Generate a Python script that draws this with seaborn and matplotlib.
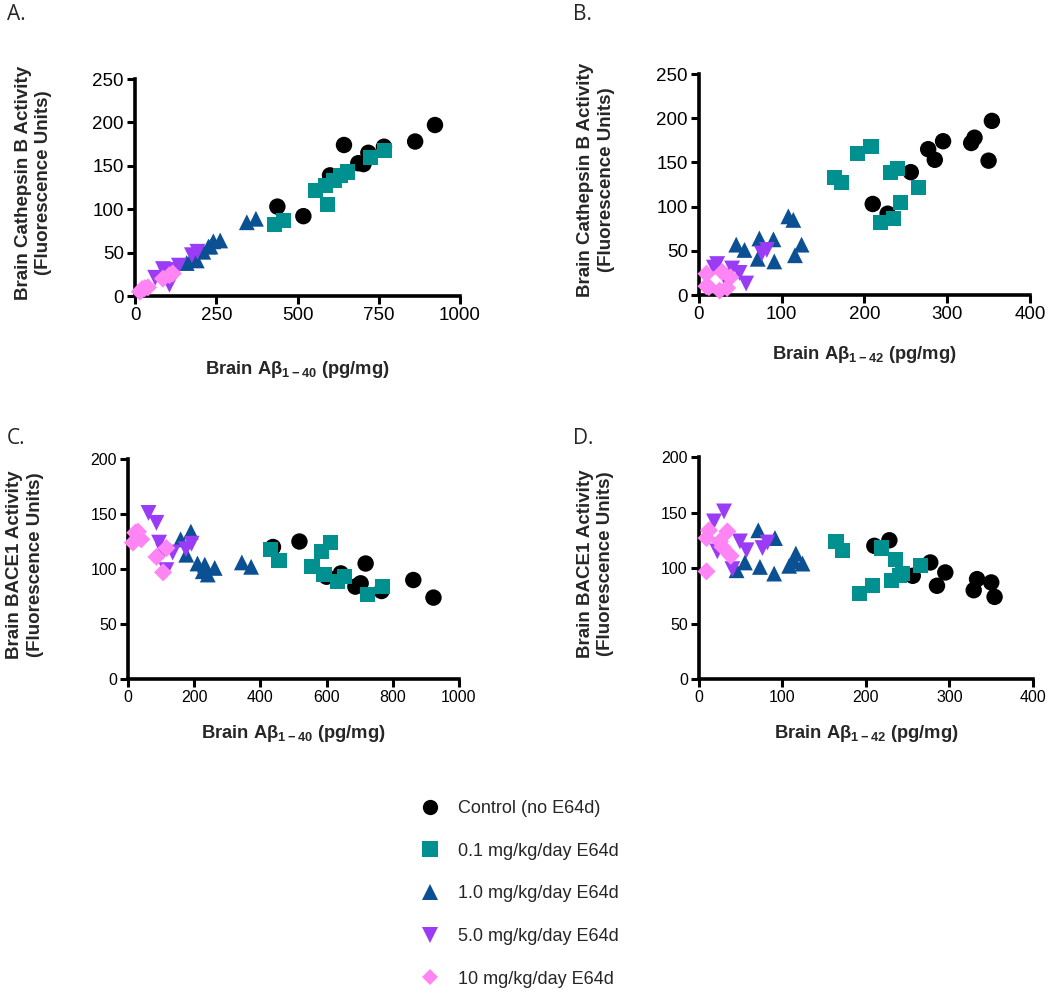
import numpy as np
import pandas as pd
import matplotlib
matplotlib.use("Agg")
import matplotlib.pyplot as plt
from matplotlib.lines import Line2D
import seaborn as sns

# ---- data, one entry per animal ----
groups = ["Control (no E64d)", "0.1 mg/kg/day E64d", "1.0 mg/kg/day E64d",
          "5.0 mg/kg/day E64d", "10 mg/kg/day E64d"]

ctrl_ab40 = [438, 518, 600, 643, 687, 703, 718, 766, 862, 923]
ctrl_ab42 = [210, 228, 256, 295, 285, 350, 277, 329, 333, 354]
ctrl_catb = [103, 92, 139, 174, 153, 152, 165, 172, 178, 197]
ctrl_bace = [120, 125, 93, 96, 84, 87, 105, 80, 90, 74]

d01_ab40 = [430, 456, 556, 585, 592, 612, 632, 655, 724, 768]
d01_ab42 = [219, 235, 265, 172, 244, 164, 231, 240, 192, 208]
d01_catb = [82, 87, 122, 127, 105, 133, 139, 143, 160, 168]
d01_bace = [118, 108, 102, 116, 95, 124, 89, 93, 77, 84]

d1_ab40 = [159, 190, 176, 210, 226, 232, 241, 262, 344, 372]
d1_ab42 = [91, 71, 116, 55, 45, 124, 90, 73, 114, 108]
d1_catb = [38, 41, 45, 51, 57, 57, 63, 64, 85, 89]
d1_bace = [127, 134, 113, 105, 98, 104, 95, 101, 106, 102]

d5_ab40 = [62, 86, 94, 106, 116, 135, 175, 192]
d5_ab42 = [30, 18, 49, 57, 40, 22, 76, 82]
d5_catb = [21, 31, 25, 13, 30, 35, 47, 51]
d5_bace = [151, 142, 124, 116, 99, 115, 118, 123]

d10_ab40 = [15, 22, 40, 86, 106, 116, 30]
d10_ab42 = [25, 34, 9, 38, 9, 28, 12]
d10_catb = [5, 8, 10, 20, 24, 26, 9]
d10_bace = [124, 133, 127, 111, 97, 119, 134]

colors = ["#000000", "#00908f", "#0b5093", "#9a3cf5", "#ff85f5"]
markers = ["o", "s", "^", "v", "D"]
sizes = [140, 120, 130, 130, 85]

frames = []
for g, a40, a42, cb, bc in zip(
        groups,
        [ctrl_ab40, d01_ab40, d1_ab40, d5_ab40, d10_ab40],
        [ctrl_ab42, d01_ab42, d1_ab42, d5_ab42, d10_ab42],
        [ctrl_catb, d01_catb, d1_catb, d5_catb, d10_catb],
        [ctrl_bace, d01_bace, d1_bace, d5_bace, d10_bace]):
    frames.append(pd.DataFrame({"group": g, "ab40": a40, "ab42": a42,
                                "catb": cb, "bace1": bc}))
df = pd.concat(frames, ignore_index=True)

sns.set_style("ticks")
plt.rcParams["font.family"] = ["Liberation Sans", "DejaVu Sans"]
plt.rcParams["mathtext.fontset"] = "custom"
plt.rcParams["mathtext.rm"] = "Liberation Sans"
plt.rcParams["mathtext.bf"] = "Liberation Sans:bold"

fig = plt.figure(figsize=(10.5, 9.94), dpi=100)

lab40 = r"Brain Aβ$_{\mathbf{1-40}}$ (pg/mg)"
lab42 = r"Brain Aβ$_{\mathbf{1-42}}$ (pg/mg)"
ylab_cb = "Brain Cathepsin B Activity\n(Fluorescence Units)"
ylab_bc = "Brain BACE1 Activity\n(Fluorescence Units)"

panels = [
    # letter, rect, x col, y col, xmax, ymax, xticks, yticks, xlabel, ylabel, tick fs, xlab y
    ("A.", [0.1286, 0.7022, 0.3095, 0.2183], "ab40", "catb", 1000, 250,
     [0, 250, 500, 750, 1000], [0, 50, 100, 150, 200, 250], lab40, ylab_cb, 13.5, -0.29),
    ("B.", [0.6657, 0.7032, 0.3152, 0.2223], "ab42", "catb", 400, 250,
     [0, 100, 200, 300, 400], [0, 50, 100, 150, 200, 250], lab42, ylab_cb, 13.5, -0.22),
    ("C.", [0.1219, 0.3169, 0.3152, 0.2213], "ab40", "bace1", 1000, 200,
     [0, 200, 400, 600, 800, 1000], [0, 50, 100, 150, 200], lab40, ylab_bc, 11.5, -0.20),
    ("D.", [0.6657, 0.3169, 0.3181, 0.2233], "ab42", "bace1", 400, 200,
     [0, 100, 200, 300, 400], [0, 50, 100, 150, 200], lab42, ylab_bc, 11.5, -0.20),
]

for letter, rect, xc, yc, xmax, ymax, xt, yt, xl, yl, tfs, xly in panels:
    ax = fig.add_axes(rect)
    for g, c, m, s in zip(groups, colors, markers, sizes):
        sub = df[df["group"] == g]
        sns.scatterplot(data=sub, x=xc, y=yc, ax=ax, color=c, marker=m, s=s,
                        edgecolor="none", linewidth=0, legend=False, clip_on=False,
                        zorder=3)
    ax.set_xlim(0, xmax)
    ax.set_ylim(0, ymax)
    ax.set_xticks(xt)
    ax.set_yticks(yt)
    sns.despine(ax=ax)
    for sp in ["left", "bottom"]:
        ax.spines[sp].set_linewidth(2.6)
        ax.spines[sp].set_color("black")
    ax.tick_params(axis="both", direction="out", length=6, width=2.2,
                   labelsize=tfs, colors="black", pad=2)
    ax.set_xlabel(xl, fontsize=13.2, fontweight="bold")
    ax.set_ylabel(yl, fontsize=13.5, fontweight="bold", linespacing=1.25)
    ax.xaxis.set_label_coords(0.5, xly)
    ax.xaxis.label.set_va("top")
    ax.yaxis.set_label_coords(-0.255, 0.52)
    # panel letter
    lx = 7 if letter in ("A.", "C.") else 573
    ly = 4 if letter in ("A.", "B.") else 428
    fig.text(lx / 1050, 1 - ly / 994, letter, fontsize=15, family="Open Sans",
             ha="left", va="top")

handles = [Line2D([], [], linestyle="none", marker=m, color=c, markeredgewidth=0,
                  markersize=ms)
           for m, c, ms in zip(markers, colors, [11, 11, 11, 11, 8.5])]
fig.legend(handles, groups, loc="upper left", bbox_to_anchor=(0.401, 0.195),
           frameon=False, fontsize=13, labelspacing=1.42, handlelength=1.0,
           handletextpad=1.05, borderpad=0, borderaxespad=0)

fig.savefig("out.png", dpi=100, facecolor="white")
